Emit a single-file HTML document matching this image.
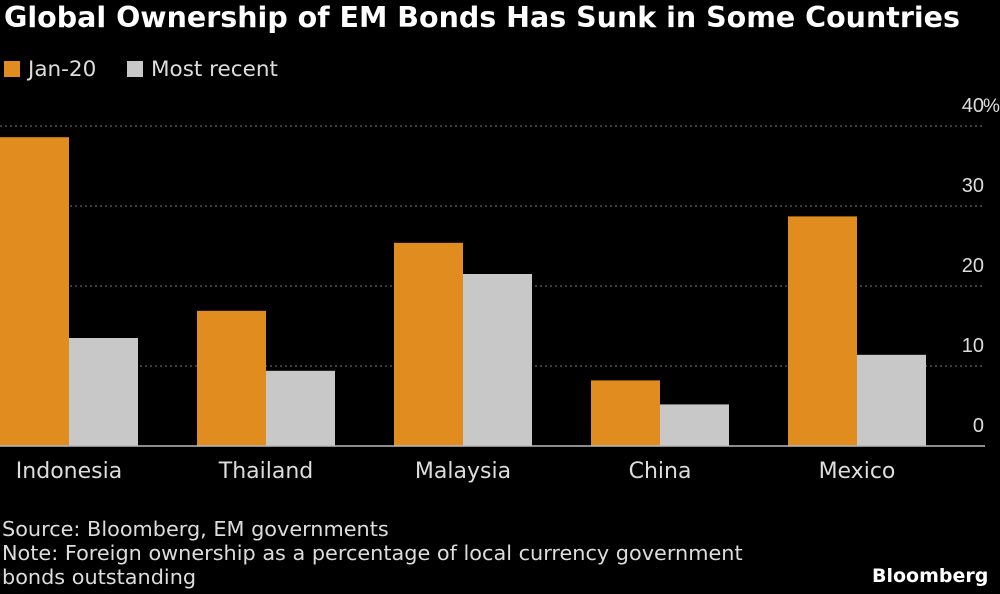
<!DOCTYPE html>
<html><head><meta charset="utf-8"><style>
body{margin:0;background:#000;width:1000px;height:594px;overflow:hidden;font-family:"DejaVu Sans","Liberation Sans",sans-serif;color:#fff;position:relative}
.t{position:absolute;white-space:nowrap}
</style></head><body>
<div class="t" style="left:4px;top:1px;font-size:28.5px;font-weight:bold;">Global Ownership of EM Bonds Has Sunk in Some Countries</div>
<div class="t" style="left:4px;top:57px;font-size:21.5px;color:#ddd"><span style="display:inline-block;width:16px;height:16px;background:#E18C1E;vertical-align:-1px;margin-right:8px"></span>Jan-20</div>
<div class="t" style="left:127px;top:57px;font-size:21.5px;color:#ddd"><span style="display:inline-block;width:16px;height:16px;background:#C8C8C8;vertical-align:-1px;margin-right:8px"></span>Most recent</div>
<svg id="chart" width="1000" height="594" style="position:absolute;left:0;top:0"></svg>
<div class="t" style="left:2px;top:517px;font-size:20.8px;line-height:24px;color:#ddd">Source: Bloomberg, EM governments<br>Note: Foreign ownership as a percentage of local currency government<br>bonds outstanding</div>
<div class="t" style="left:872px;top:565px;font-size:19px;font-weight:bold">Bloomberg</div>
<script>
const categories=["Indonesia","Thailand","Malaysia","China","Mexico"];
const jan20=[38.6,16.9,25.4,8.2,28.7];
const recent=[13.5,9.4,21.5,5.2,11.4];
const ticks=[0,10,20,30,40];
const svg=document.getElementById('chart');
const NS='http://www.w3.org/2000/svg';
const y=v=>446-v*8;
const gx=i=>i*197;
function mk(t,a){const e=document.createElementNS(NS,t);for(const k in a)e.setAttribute(k,a[k]);svg.appendChild(e);return e;}
ticks.forEach(v=>{
 if(v>0){const l=mk('line',{x1:0,x2:985,y1:y(v),y2:y(v),stroke:'#777','stroke-dasharray':'2,3','stroke-width':1});
 
 }
 const t=mk('text',{x:984,y:y(v)-14,'text-anchor':'end','font-size':20,fill:'#ddd','font-family':'Liberation Sans'});
 t.textContent=v;
 
 
 if(v==40){const p=mk('text',{x:983,y:y(v)-14,'font-size':19,fill:'#ddd','font-family':'Liberation Sans'});
 p.textContent='%';
 
 }
});
categories.forEach((c,i)=>{
 const a=mk('rect',{x:gx(i),y:y(jan20[i]),width:69,height:jan20[i]*8,fill:'#E18C1E'});
 
 
 const b=mk('rect',{x:gx(i)+69,y:y(recent[i]),width:69,height:recent[i]*8,fill:'#C8C8C8'});
 
 
 const t=mk('text',{x:gx(i)+69,y:478,'text-anchor':'middle','font-size':22,fill:'#ddd','font-family':'DejaVu Sans'});
 t.textContent=c;
 
 
});
const base=mk('line',{x1:0,x2:985,y1:446,y2:446,stroke:'#bbb','stroke-width':1.5});


</script>
</body></html>
